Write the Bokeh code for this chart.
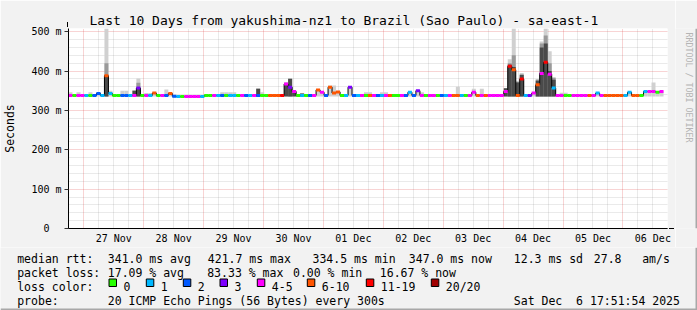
import math
from bokeh.plotting import figure
from bokeh.layouts import column, row
from bokeh.models import (ColumnDataSource, Range1d, FixedTicker, Grid, Title,
                          Arrow, NormalHead)
from bokeh.core.properties import value
from bokeh.embed import file_html
from bokeh.resources import INLINE

NaN = float("nan")

# ---------------- data ----------------
# time axis: minutes since 2025-11-26 00:00
t_start = 1072          # 26 Nov 17:52
t_end = 15472           # 06 Dec 17:52
step = 96               # consolidated step, minutes

median_ms = [338, 338, 338, 338, 338, 338, 338, 343, 338, 388,
             343, 338, 338, 338, 338, 338, 338, 357, 338, 338,
             338, 344, 338, 338, 338, 343, 336, 335, 335, 335,
             335, 335, 335, 335, 338, 338, 338, 338, 338, 338,
             338, 338, 338, 338, 338, 338, 338, 338, 338, 338,
             338, 338, 338, 338, 367, 359, 348, 338, 338, 338,
             338, 338, 352, 346, 338, 359, 344, 347, 338, 338,
             359, 338, 338, 338, 338, 338, 338, 338, 338, 338,
             338, 338, 338, 338, 338, 346, 338, 350, 338, 338,
             338, 338, 338, 338, 338, 338, 338, 338, 338, 338,
             338, 346, 338, 338, 338, 338, 338, 338, 338, 348,
             412, 403, 338, 380, 338, 338, 344, 365, 394, 422,
             392, 357, 338, 338, 338, 338, 338, 338, 338, 338,
             338, 338, 344, 338, 338, 338, 338, 338, 338, 338,
             346, 338, 338, 338, 348, 348, 348, 346, 348, NaN]

loss_class = [4, 0, 4, 4, 1, 0, 2, 2, 1, 5,
              1, 0, 0, 2, 2, 1, 4, 3, 0, 4,
              1, 5, 0, 4, 2, 5, 2, 1, 0, 4,
              4, 4, 4, 1, 0, 0, 4, 1, 2, 0,
              1, 1, 0, 4, 2, 1, 4, 2, 0, 0,
              5, 5, 5, 6, 4, 3, 4, 0, 1, 0,
              2, 4, 5, 4, 2, 5, 5, 5, 0, 1,
              3, 2, 1, 4, 0, 5, 4, 2, 1, 4,
              5, 0, 0, 4, 2, 1, 2, 3, 4, 0,
              4, 4, 0, 2, 1, 4, 5, 5, 1, 0,
              4, 4, 5, 4, 5, 4, 4, 4, 4, 4,
              6, 5, 5, 6, 1, 3, 4, 5, 4, 6,
              4, 1, 4, 4, 0, 0, 4, 4, 4, 4,
              5, 4, 1, 4, 5, 5, 5, 5, 5, 1,
              1, 5, 5, 0, 1, 4, 4, 0, 4, 4]

smoke_bottom = [335] * 26 + [332] * 8 + [335] * 115 + [NaN]

smoke_light_top = [346, 341, 346, 341, 341, 346, 341, 346, 341, 508,
                   350, 341, 341, 350, 350, 341, 352, 381, 341, 344,
                   344, 346, 341, 341, 353, 345, 338, 338, 338, 338,
                   338, 338, 338, 338, 341, 341, 341, 341, 346, 346,
                   346, 346, 341, 341, 341, 341, 341, 356, 346, 341,
                   341, 341, 341, 341, 372, 382, 350, 341, 344, 341,
                   341, 341, 353, 347, 341, 363, 363, 348, 341, 341,
                   360, 341, 341, 341, 346, 346, 341, 341, 346, 346,
                   341, 341, 341, 341, 341, 348, 341, 351, 346, 341,
                   341, 341, 341, 341, 341, 341, 341, 360, 341, 341,
                   341, 355, 341, 355, 341, 341, 341, 341, 341, 357,
                   430, 508, 375, 395, 341, 341, 346, 380, 475, 508,
                   450, 385, 341, 345, 345, 341, 341, 341, 341, 341,
                   341, 341, 345, 341, 341, 341, 341, 341, 341, 341,
                   347, 341, 341, 341, 349, 349, 371, 348, 350, NaN]

smoke_mid_top = [335, 335, 335, 335, 335, 335, 335, 335, 335, 420,
                 335, 335, 335, 335, 335, 335, 335, 370, 335, 335,
                 335, 335, 335, 335, 335, 335, 332, 332, 332, 332,
                 332, 332, 332, 332, 335, 335, 335, 335, 335, 335,
                 335, 335, 335, 335, 335, 335, 335, 335, 335, 335,
                 335, 335, 335, 335, 335, 381, 335, 335, 335, 335,
                 335, 335, 335, 335, 335, 335, 335, 335, 335, 335,
                 335, 335, 335, 335, 335, 335, 335, 335, 335, 335,
                 335, 335, 335, 335, 335, 335, 335, 335, 335, 335,
                 335, 335, 335, 335, 335, 335, 335, 335, 335, 335,
                 335, 335, 335, 335, 335, 335, 335, 335, 335, 335,
                 420, 440, 373, 392, 335, 335, 335, 378, 470, 490,
                 420, 382, 335, 335, 335, 335, 335, 335, 335, 335,
                 335, 335, 335, 335, 335, 335, 335, 335, 335, 335,
                 335, 335, 335, 335, 335, 335, 335, 335, 335, NaN]

smoke_dark_top = [335, 335, 335, 335, 335, 335, 335, 335, 335, 388,
                  335, 335, 335, 335, 335, 335, 350, 357, 335, 335,
                  335, 335, 335, 335, 335, 335, 332, 332, 332, 332,
                  332, 332, 332, 332, 335, 335, 335, 335, 335, 335,
                  335, 335, 335, 335, 335, 335, 335, 355, 335, 335,
                  335, 335, 335, 335, 367, 380, 348, 335, 343, 335,
                  335, 335, 335, 335, 335, 335, 335, 335, 335, 335,
                  335, 335, 335, 335, 335, 335, 335, 335, 335, 335,
                  335, 335, 335, 335, 335, 335, 335, 335, 335, 335,
                  335, 335, 335, 335, 335, 335, 335, 335, 335, 335,
                  335, 335, 335, 335, 335, 335, 335, 335, 335, 356,
                  416, 410, 371, 390, 335, 335, 335, 375, 460, 470,
                  400, 378, 335, 335, 335, 335, 335, 335, 335, 335,
                  335, 335, 335, 335, 335, 335, 335, 335, 335, 335,
                  335, 335, 335, 335, 335, 335, 335, 335, 335, NaN]

loss_labels = ["0", "1", "2", "3", "4-5", "6-10", "11-19", "20/20"]
loss_colors = ["#26ff00", "#00b8ff", "#0059ff", "#7e00ff",
               "#ff00ff", "#ff5500", "#ff0000", "#a00000"]

day_ticks = [2160, 3600, 5040, 6480, 7920, 9360, 10800, 12240, 13680, 15120]
day_labels = ["27 Nov", "28 Nov", "29 Nov", "30 Nov", "01 Dec",
              "02 Dec", "03 Dec", "04 Dec", "05 Dec", "06 Dec"]
y_ticks = [0, 100, 200, 300, 400, 500]
y_labels = ["0\u00a0\u00a0", "100 m", "200 m", "300 m", "400 m", "500 m"]

title_text = "Last 10 Days from yakushima-nz1 to Brazil (Sao Paulo) - sa-east-1"
rtt_items = ["median rtt:", "341.0 ms avg", "421.7 ms max", "334.5 ms min",
             "347.0 ms now", "12.3 ms sd", "27.8", "am/s"]
loss_items = ["packet loss:", "17.09 % avg", "83.33 % max", "0.00 % min", "16.67 % now"]
probe_items = ["probe:", "20 ICMP Echo Pings (56 Bytes) every 300s",
               "Sat Dec\u00a0\u00a06 17:51:54 2025"]

FONT = "DejaVu Sans Mono"
BG = "#f2f2f2"

# ---------------- main plot ----------------
n = len(median_ms)
t0 = [t_start + step * i for i in range(n)]
t1 = [t + step for t in t0]
src = ColumnDataSource(dict(
    t0=t0, t1=t1, med=median_ms,
    color=[loss_colors[c] for c in loss_class],
    lo=smoke_bottom, light=smoke_light_top, mid=smoke_mid_top, dark=smoke_dark_top))

p = figure(width=675, height=247, output_backend="svg", toolbar_location=None,
           x_range=Range1d(t_start, t_end), y_range=Range1d(0, 508),
           min_border_left=67, min_border_right=8, min_border_top=28,
           min_border_bottom=19)
p.title = Title(text=title_text, align="left", offset=21, standoff=2,
                vertical_align="bottom", text_font=FONT, text_font_size="13px",
                text_font_style="normal", text_color="black")
p.background_fill_color = "white"
p.border_fill_color = BG
p.outline_line_color = None
p.grid.visible = False

minor_y = [v for v in range(20, 501, 20) if v % 100 != 0]
major_y = [100, 200, 300, 400, 500]
midnights = [1440 * d for d in range(1, 11)]
minor_x = [m for m in range(1080, t_end, 360) if m % 1440 != 0]
for dim, ticks, col, alpha in [(1, minor_y, "#808080", 0.32), (0, minor_x, "#808080", 0.32),
                               (1, major_y, "#e04040", 0.45), (0, midnights, "#e04040", 0.45)]:
    p.add_layout(Grid(dimension=dim, ticker=FixedTicker(ticks=ticks),
                      grid_line_color=col, grid_line_alpha=alpha, grid_line_dash="1 1"))

# smoke
p.quad(left="t0", right="t1", bottom="lo", top="light", source=src,
       fill_color="#d0d0d0", line_color=None)
p.quad(left="t0", right="t1", bottom="lo", top="mid", source=src,
       fill_color="#9a9a9a", line_color=None)
p.quad(left="t0", right="t1", bottom="lo", top="dark", source=src,
       fill_color="#4a4a4a", line_color=None)

# median line coloured by loss
p.step(x="t0", y="med", source=src, mode="after", line_color="black", line_width=1)
p.segment(x0="t0", x1="t1", y0="med", y1="med", source=src,
          line_color="color", line_width=3, line_cap="butt")

# axes
p.xaxis.ticker = FixedTicker(ticks=day_ticks)
p.xaxis.major_label_overrides = {t: l for t, l in zip(day_ticks, day_labels)}
p.xaxis.major_tick_line_color = None
p.xaxis.minor_tick_line_color = None
p.xaxis.major_tick_out = 0
p.xaxis.major_tick_in = 0
p.xaxis.minor_tick_out = 0
p.xaxis.minor_tick_in = 0
p.xaxis.major_label_standoff = 4
p.xaxis.axis_line_color = "black"
p.yaxis.ticker = FixedTicker(ticks=y_ticks)
p.yaxis.major_label_overrides = {t: l for t, l in zip(y_ticks, y_labels)}
p.yaxis.major_tick_out = 4
p.yaxis.major_tick_in = 0
p.yaxis.minor_tick_out = 0
p.yaxis.minor_tick_in = 0
p.yaxis.major_tick_line_color = "#333333"
p.yaxis.minor_tick_line_color = None
p.yaxis.major_label_standoff = 3
p.yaxis.axis_line_color = "black"
p.yaxis.axis_label = "Seconds"
p.yaxis.axis_label_standoff = 11
p.yaxis.axis_label_text_font = FONT
p.yaxis.axis_label_text_font_size = "11.5px"
p.yaxis.axis_label_text_font_style = "normal"
p.yaxis.axis_label_text_color = "black"
for ax in (p.xaxis[0], p.yaxis[0]):
    ax.major_label_text_font = FONT
    ax.major_label_text_font_size = "10px"
    ax.major_label_text_color = "black"

for xs, ys, xe, ye in [(67, 228, 67, 21.5), (67, 228, 673.5, 228)]:
    p.add_layout(Arrow(x_start=xs, y_start=ys, x_end=xe, y_end=ye,
                       start_units="canvas", end_units="canvas",
                       line_color="black", line_width=1,
                       end=NormalHead(size=5, fill_color="#7f0000", line_color="#7f0000")))

# ---------------- watermark strip (right) ----------------
def blank(w, h, xr, yr):
    f = figure(width=w, height=h, output_backend="svg", toolbar_location=None,
               x_range=xr, y_range=yr, x_axis_type=None, y_axis_type=None,
               min_border=0)
    f.background_fill_color = BG
    f.border_fill_color = BG
    f.outline_line_color = None
    f.grid.visible = False
    return f

wm = blank(22, 247, Range1d(675, 697), Range1d(247, 0))
wm.text(x=[688.5], y=[5], text=["RRDTOOL / TOBI OETIKER"], angle=-math.pi / 2,
        text_align="left", text_baseline="middle", text_font=value(FONT),
        text_font_size=value("8.3px"), text_color="#b4b4b4")
wm.quad(left=[695], right=[697], top=[0], bottom=[247], fill_color="#a8a8a8", line_color=None)

# ---------------- legend strip (bottom) ----------------
lg = blank(697, 63, Range1d(0, 697), Range1d(310, 247))

def put(items, xs, y):
    lg.text(x=xs, y=[y] * len(items), text=items, text_align="left",
            text_baseline="alphabetic", text_font=value(FONT),
            text_font_size=value("11.5px"), text_color="black")

put(rtt_items, [16.7, 107.3, 207.3, 312.0, 408.3, 513.3, 593.3, 641.7], 258)
put(loss_items, [16.7, 107.3, 206.7, 292.5, 379.3], 272)
put(["loss color:"], [16.7], 286)
box_x = [108.5, 145.8, 182.8, 219.5, 256.8, 306.8, 365.8, 430.8]
lg.quad(left=box_x, right=[b + 7.5 for b in box_x], top=[278.5] * 8, bottom=[286] * 8,
        fill_color=loss_colors, line_color="black", line_width=1)
put(loss_labels, [b + 14.5 for b in box_x], 286)
put(probe_items, [16.7, 107.3, 513.3], 300)
lg.quad(left=[0, 695], right=[697, 697], top=[308, 247], bottom=[310, 310],
        fill_color="#a8a8a8", line_color=None)

layout = column(row(p, wm, spacing=0), lg, spacing=0)
open("out.html", "w").write(file_html(layout, INLINE))
